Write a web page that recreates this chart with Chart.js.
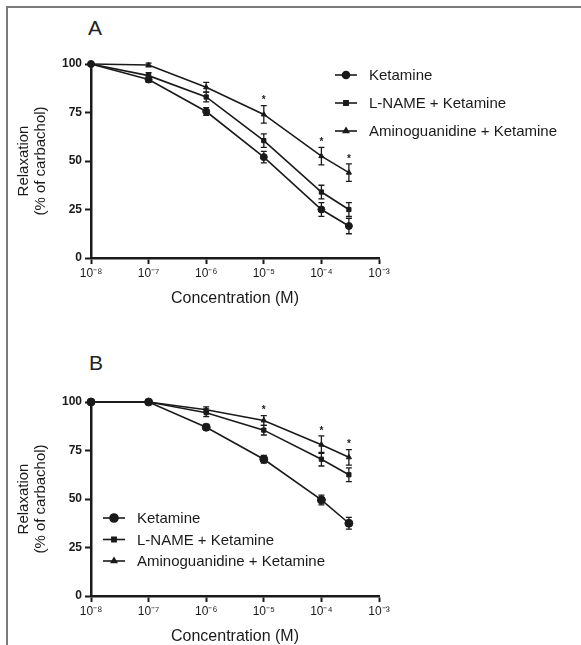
<!DOCTYPE html>
<html>
<head>
<meta charset="utf-8">
<script src="https://cdn.jsdelivr.net/npm/chart.js@4.4.0/dist/chart.umd.min.js"></script>
<style>
  body { margin:0; background:#fff; width:581px; height:645px; overflow:hidden; position:relative;
         font-family:'Liberation Sans', Arial, sans-serif; }
  #frame { position:absolute; left:6px; top:6px; width:640px; height:700px;
           border-left:2px solid #7a7a7a; border-top:2px solid #7a7a7a; }
  .tag { position:absolute; font-size:21px; line-height:21px; color:#222; }
  .panel { position:absolute; left:0; }
</style>
</head>
<body>
<div id="frame"></div>
<div class="tag" style="left:88px; top:17px;">A</div>
<div class="tag" style="left:89px; top:352px;">B</div>
<canvas id="chartA" class="panel" width="581" height="280" style="top:40px"></canvas>
<canvas id="chartB" class="panel" width="581" height="280" style="top:378px"></canvas>
<script>
// concentrations (M) and axis ticks
const concentrations = [1e-8, 1e-7, 1e-6, 1e-5, 1e-4, 3e-4];
const xTickValues = [1e-8, 1e-7, 1e-6, 1e-5, 1e-4, 1e-3];
const xTickLabels = ['10⁻⁸', '10⁻⁷', '10⁻⁶', '10⁻⁵', '10⁻⁴', '10⁻³'];
const yTickValues = [0, 25, 50, 75, 100];
const seriesNames = ['Ketamine', 'L-NAME + Ketamine', 'Aminoguanidine + Ketamine'];

// panel A - relaxation (% of carbachol) and SEM
const ketamineA = [100, 92, 75.5, 52, 25, 16.5];
const ketamineErrA = [0, 1.5, 2, 3, 3.5, 4];
const lnameA = [100, 94, 83, 60.5, 34, 25];
const lnameErrA = [0, 1.5, 2.5, 3.5, 3.5, 3.5];
const aminoA = [100, 99.5, 88, 74, 52.5, 44];
const aminoErrA = [0, 1, 2.5, 4.5, 4.5, 4.5];
const aminoMarksA = ['', '', '', '*', '*', '*'];

// panel B
const ketamineB = [100, 100, 87, 70.5, 49.5, 37.5];
const ketamineErrB = [0, 0.5, 1.5, 2, 2.5, 3];
const lnameB = [100, 100, 94.5, 85.5, 70.5, 62.5];
const lnameErrB = [0, 0.5, 2, 2.5, 3.5, 3.5];
const aminoB = [100, 100, 96, 90.5, 78, 71.5];
const aminoErrB = [0, 0.5, 1.5, 2.5, 4.5, 4];
const aminoMarksB = ['', '', '', '*', '*', '*'];

const FONT = "'Liberation Sans', Arial, sans-serif";
const INK = '#1a1a1a';

function toPoints(values) {
  return values.map((v, i) => ({ x: concentrations[i], y: v }));
}

function makeDataset(name, values, errors, marks, style, radius) {
  return {
    label: name,
    data: toPoints(values),
    errors: errors,
    marks: marks || [],
    borderColor: INK,
    backgroundColor: INK,
    borderWidth: 1.6,
    pointStyle: style,
    pointRadius: radius,
    pointBorderWidth: 1,
    tension: 0,
    clip: false
  };
}

// error bars + significance marks drawn with the chart's own scales
const errorBarPlugin = {
  id: 'errorBars',
  afterDatasetsDraw(chart) {
    const ctx = chart.ctx;
    const xs = chart.scales.x, ys = chart.scales.y;
    ctx.save();
    ctx.strokeStyle = INK;
    ctx.fillStyle = INK;
    ctx.lineWidth = 1.3;
    chart.data.datasets.forEach(ds => {
      ds.data.forEach((p, i) => {
        const e = ds.errors[i] || 0;
        const px = xs.getPixelForValue(p.x);
        const top = ys.getPixelForValue(p.y + e);
        const bot = ys.getPixelForValue(p.y - e);
        if (e > 0) {
          ctx.beginPath();
          ctx.moveTo(px, top); ctx.lineTo(px, bot);
          ctx.moveTo(px - 3, top); ctx.lineTo(px + 3, top);
          ctx.moveTo(px - 3, bot); ctx.lineTo(px + 3, bot);
          ctx.stroke();
        }
        if (ds.marks[i]) {
          ctx.font = 'bold 10px ' + FONT;
          ctx.textAlign = 'center';
          ctx.textBaseline = 'middle';
          ctx.fillText(ds.marks[i], px, top - 5);
        }
      });
    });
    ctx.restore();
  }
};

// legend: line sample with the marker, then the name
const lineLegendPlugin = {
  id: 'lineLegend',
  afterDraw(chart, args, opts) {
    const ctx = chart.ctx;
    ctx.save();
    chart.data.datasets.forEach((ds, i) => {
      const y = opts.y + i * opts.gap;
      ctx.strokeStyle = INK;
      ctx.lineWidth = 1.6;
      ctx.beginPath();
      ctx.moveTo(opts.x, y);
      ctx.lineTo(opts.x + 22, y);
      ctx.stroke();
      ctx.fillStyle = INK;
      Chart.helpers.drawPoint(ctx, {
        pointStyle: ds.pointStyle, radius: ds.pointRadius, rotation: 0, borderWidth: 1
      }, opts.x + 11, y);
      ctx.font = '15px ' + FONT;
      ctx.textAlign = 'left';
      ctx.textBaseline = 'middle';
      ctx.fillText(ds.label, opts.x + 34, y + 1);
    });
    ctx.restore();
  }
};

function buildChart(id, datasets, legendPos) {
  return new Chart(document.getElementById(id), {
    type: 'line',
    data: { datasets: datasets },
    plugins: [errorBarPlugin, lineLegendPlugin],
    options: {
      responsive: false,
      animation: false,
      devicePixelRatio: 1,
      layout: { padding: { left: 0, top: 24, right: 202, bottom: 0 } },
      plugins: {
        legend: { display: false },
        tooltip: { enabled: false },
        lineLegend: legendPos
      },
      scales: {
        x: {
          type: 'logarithmic',
          min: 1e-8,
          max: 1e-3,
          afterBuildTicks: s => { s.ticks = xTickValues.map(v => ({ value: v })); },
          afterFit: s => { s.height = 62; },
          ticks: {
            autoSkip: false, maxRotation: 0, color: INK, padding: 2,
            font: { size: 12, family: FONT },
            callback: (v, i) => xTickLabels[i]
          },
          grid: { drawOnChartArea: false, drawTicks: true, tickLength: 6, tickWidth: 2, tickColor: INK },
          border: { display: true, color: INK, width: 2.5 },
          title: {
            display: true, text: 'Concentration (M)', color: INK,
            font: { size: 16, family: FONT, lineHeight: 1.2 },
            padding: { top: 0, bottom: 12 }
          }
        },
        y: {
          min: 0,
          max: 100,
          afterBuildTicks: s => { s.ticks = yTickValues.map(v => ({ value: v })); },
          afterFit: s => { s.width = 91; },
          ticks: { color: INK, padding: 3, font: { size: 12, family: FONT, weight: 'bold' } },
          grid: { drawOnChartArea: false, drawTicks: true, tickLength: 6, tickWidth: 2, tickColor: INK },
          border: { display: true, color: INK, width: 2.5 },
          title: {
            display: true, text: ['Relaxation', '(% of carbachol)'], color: INK,
            font: { size: 15, family: FONT, lineHeight: 1.15 },
            padding: { top: 15, bottom: 0 }
          }
        }
      }
    }
  });
}

buildChart('chartA', [
  makeDataset(seriesNames[0], ketamineA, ketamineErrA, null, 'circle', 3.5),
  makeDataset(seriesNames[1], lnameA, lnameErrA, null, 'rect', 3),
  makeDataset(seriesNames[2], aminoA, aminoErrA, aminoMarksA, 'triangle', 3)
], { x: 335, y: 35, gap: 28 });

buildChart('chartB', [
  makeDataset(seriesNames[0], ketamineB, ketamineErrB, null, 'circle', 4),
  makeDataset(seriesNames[1], lnameB, lnameErrB, null, 'rect', 3),
  makeDataset(seriesNames[2], aminoB, aminoErrB, aminoMarksB, 'triangle', 3)
], { x: 103, y: 140, gap: 21.5 });
</script>
</body>
</html>
